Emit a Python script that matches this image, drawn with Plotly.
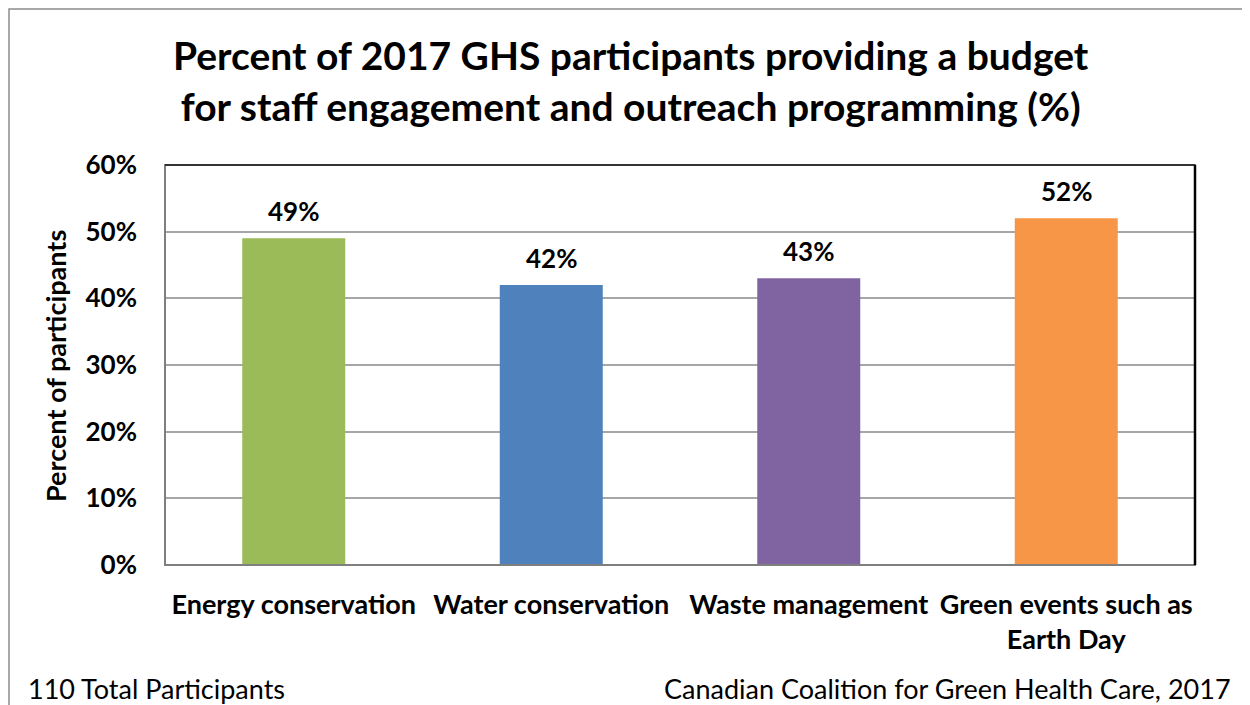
import plotly.graph_objects as go

categories = ["Energy conservation", "Water conservation", "Waste management", "Green events such as<br>Earth Day"]
values = [0.49, 0.42, 0.43, 0.52]
colors = ["#9BBB59", "#4F81BD", "#8064A2", "#F79646"]
title_text = "Percent of 2017 GHS participants providing a budget<br>for staff engagement and outreach programming (%)"
y_title = "Percent of participants"
footer_left = "110 Total Participants"
footer_right = "Canadian Coalition for Green Health Care, 2017"

FONT = "Lato, Open Sans, sans-serif"
# page body has an 8px offset; plot area should land at x 165..1195, y 165..565
OFF = 8

def px(xp):
    return (xp - 165) / 1030

def py(yp):
    return (565 - yp) / 400

fig = go.Figure()
fig.add_trace(go.Bar(x=categories, y=values, marker=dict(color=colors, line=dict(width=0)), width=0.4,
                     hoverinfo="x+y"))

for c, v in zip(categories, values):
    fig.add_annotation(x=c, y=v, text=f"<b>{round(v*100)}%</b>", showarrow=False, yanchor="bottom",
                       yshift=9, font=dict(family=FONT, size=26, color="black"))

fig.update_layout(
    width=1250, height=705,
    margin=dict(l=165 - OFF, r=1250 - 1195 + OFF, t=165 - OFF, b=705 - 565 + OFF),
    paper_bgcolor="white", plot_bgcolor="white",
    showlegend=False,
    font=dict(family=FONT, color="black"),
)
fig.update_yaxes(range=[0, 0.6], tickvals=[0, 0.1, 0.2, 0.3, 0.4, 0.5, 0.6], tickformat=".0%",
                 showgrid=True, gridcolor="#A6A6A6", gridwidth=1.5, zeroline=False,
                 showline=False, ticks="", ticklabelstandoff=27,
                 tickfont=dict(family=FONT, size=26, color="black", weight="bold"))
fig.update_xaxes(showgrid=False, showline=False, ticks="", ticklabelstandoff=21,
                 tickfont=dict(family=FONT, size=27, color="black", weight="bold"))

# plot area frame
fig.add_shape(type="rect", xref="paper", yref="paper", x0=0, x1=1, y0=0, y1=1,
              line=dict(color="#7F7F7F", width=2), layer="above")
fig.add_shape(type="line", xref="paper", yref="paper", x0=0, x1=1, y0=1, y1=1,
              line=dict(color="#333333", width=2), layer="above")
fig.add_shape(type="line", xref="paper", yref="paper", x0=1, x1=1, y0=0, y1=1,
              line=dict(color="black", width=2.5), layer="above")
# outer chart frame
fig.add_shape(type="rect", xref="paper", yref="paper", x0=px(9), x1=px(1300), y0=py(800), y1=py(9),
              line=dict(color="#8C8C8C", width=1.5))

fig.add_annotation(text=f"<b>{title_text}</b>", xref="paper", yref="paper", x=px(631), y=py(80),
                   xanchor="center", yanchor="middle",
                   showarrow=False, font=dict(family=FONT, size=39, color="black"), align="center")
fig.add_annotation(text=f"<b>{y_title}</b>", xref="paper", yref="paper", x=px(55), y=py(366), textangle=-90,
                   xanchor="center", yanchor="middle",
                   showarrow=False, font=dict(family=FONT, size=27, color="black"))
fig.add_annotation(text=footer_left, xref="paper", yref="paper", x=px(26), y=py(688),
                   xanchor="left", yanchor="middle", showarrow=False, font=dict(family=FONT, size=27, color="black"))
fig.add_annotation(text=footer_right, xref="paper", yref="paper", x=px(1233), y=py(688),
                   xanchor="right", yanchor="middle", showarrow=False, font=dict(family=FONT, size=27, color="black"))

fig.write_html("out.html")
